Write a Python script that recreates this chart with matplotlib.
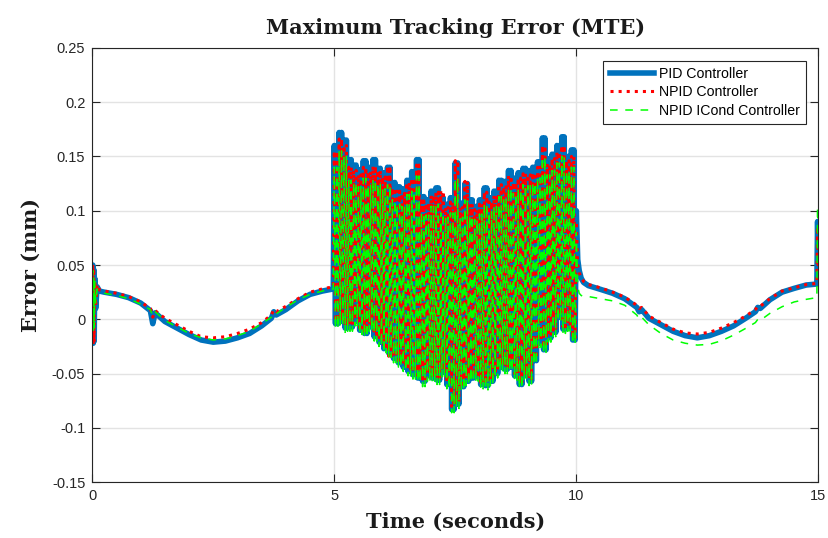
import matplotlib
matplotlib.use("Agg")
import matplotlib.pyplot as plt
import numpy as np

# ---- smooth part, 0 .. 5 s
t_start = [0, 0.01, 0.02, 0.03, 0.04, 0.05, 0.07, 0.1, 0.15, 0.25, 0.5, 0.75, 1.0, 1.2, 1.25, 1.3,
           1.5, 1.75, 2.0, 2.25, 2.5, 2.75, 3.0, 3.25, 3.5, 3.7, 3.75, 3.8, 4.0, 4.25, 4.5, 4.75, 4.98]
pid_start = [0.012, 0.050, -0.022, 0.046, -0.020, 0.038, 0.010, 0.030, 0.026, 0.025, 0.023, 0.020, 0.015, 0.008, -0.004, 0.006,
             -0.002, -0.008, -0.014, -0.019, -0.021, -0.020, -0.017, -0.013, -0.006, 0.001, 0.007, 0.004, 0.009, 0.017, 0.023, 0.026, 0.028]
npid_start = [0.010, 0.051, -0.023, 0.047, -0.021, 0.036, 0.012, 0.032, 0.027, 0.026, 0.024, 0.021, 0.016, 0.010, 0.002, 0.008,
              0.001, -0.005, -0.011, -0.016, -0.017, -0.016, -0.013, -0.009, -0.003, 0.004, 0.009, 0.007, 0.012, 0.019, 0.025, 0.028, 0.030]
icond_start = [0.015, 0.045, -0.010, 0.040, -0.008, 0.035, 0.015, 0.028, 0.025, 0.024, 0.022, 0.019, 0.014, 0.009, 0.003, 0.007,
               -0.001, -0.007, -0.013, -0.017, -0.019, -0.018, -0.015, -0.011, -0.004, 0.002, 0.006, 0.005, 0.011, 0.018, 0.023, 0.026, 0.028]

# ---- oscillating part, 5 .. 10 s: read peak / trough for each 0.1 s slot
pid_peaks = [0.160, 0.172, 0.165, 0.147, 0.142, 0.138, 0.146, 0.140, 0.147, 0.139,
             0.135, 0.140, 0.126, 0.122, 0.120, 0.128, 0.136, 0.147, 0.113, 0.110,
             0.118, 0.121, 0.112, 0.106, 0.112, 0.144, 0.107, 0.125, 0.110, 0.104,
             0.110, 0.121, 0.112, 0.118, 0.128, 0.127, 0.137, 0.130, 0.135, 0.139,
             0.137, 0.140, 0.145, 0.167, 0.148, 0.152, 0.160, 0.168, 0.150, 0.156]
pid_troughs = [-0.004, -0.002, -0.008, -0.007, -0.002, -0.010, -0.013, -0.007, -0.016, -0.021,
               -0.027, -0.031, -0.036, -0.040, -0.044, -0.048, -0.051, -0.054, -0.057, -0.052,
               -0.054, -0.056, -0.049, -0.060, -0.083, -0.078, -0.062, -0.057, -0.054, -0.053,
               -0.060, -0.061, -0.057, -0.050, -0.044, -0.046, -0.044, -0.052, -0.060, -0.052,
               -0.057, -0.038, -0.022, -0.028, -0.017, -0.012, 0.002, -0.009, -0.007, -0.019]
npid_peaks = [0.155, 0.166, 0.160, 0.140, 0.137, 0.133, 0.140, 0.136, 0.141, 0.137,
              0.131, 0.141, 0.121, 0.118, 0.116, 0.126, 0.130, 0.142, 0.109, 0.107,
              0.114, 0.117, 0.118, 0.103, 0.108, 0.146, 0.103, 0.127, 0.106, 0.101,
              0.106, 0.117, 0.108, 0.114, 0.124, 0.122, 0.132, 0.126, 0.130, 0.134,
              0.133, 0.135, 0.140, 0.160, 0.143, 0.148, 0.154, 0.160, 0.146, 0.150]
npid_troughs = [-0.002, 0.000, -0.006, -0.005, 0.000, -0.008, -0.011, -0.005, -0.014, -0.019,
                -0.025, -0.034, -0.035, -0.038, -0.042, -0.046, -0.049, -0.052, -0.055, -0.050,
                -0.052, -0.054, -0.047, -0.058, -0.080, -0.076, -0.060, -0.055, -0.052, -0.051,
                -0.058, -0.059, -0.055, -0.048, -0.042, -0.044, -0.042, -0.050, -0.058, -0.050,
                -0.055, -0.036, -0.020, -0.026, -0.015, -0.010, 0.004, -0.007, -0.005, -0.017]
icond_peaks = [0.140, 0.155, 0.150, 0.128, 0.126, 0.122, 0.130, 0.124, 0.129, 0.125,
               0.120, 0.124, 0.110, 0.106, 0.104, 0.115, 0.118, 0.132, 0.098, 0.096,
               0.104, 0.106, 0.098, 0.094, 0.098, 0.130, 0.094, 0.110, 0.096, 0.092,
               0.097, 0.106, 0.099, 0.104, 0.113, 0.112, 0.121, 0.116, 0.120, 0.124,
               0.123, 0.126, 0.130, 0.150, 0.133, 0.137, 0.144, 0.150, 0.137, 0.140]
icond_troughs = [-0.009, -0.006, -0.012, -0.011, -0.006, -0.014, -0.017, -0.011, -0.020, -0.025,
                 -0.031, -0.035, -0.040, -0.044, -0.048, -0.052, -0.055, -0.058, -0.062, -0.057,
                 -0.058, -0.060, -0.053, -0.064, -0.086, -0.082, -0.066, -0.061, -0.058, -0.057,
                 -0.064, -0.065, -0.061, -0.054, -0.048, -0.050, -0.048, -0.056, -0.064, -0.056,
                 -0.061, -0.042, -0.026, -0.032, -0.021, -0.016, -0.002, -0.013, -0.011, -0.023]
swings_per_slot = 2

# ---- smooth part, 10 .. 15 s
t_end = [10.0, 10.03, 10.06, 10.1, 10.15, 10.25, 10.5, 10.75, 11.0, 11.25, 11.3, 11.35, 11.5, 11.75, 12.0,
         12.25, 12.5, 12.75, 13.0, 13.25, 13.5, 13.7, 13.75, 13.8, 14.0, 14.25, 14.5, 14.75, 14.97, 14.985, 15.0]
pid_end = [0.100, 0.055, 0.045, 0.038, 0.034, 0.031, 0.0276, 0.024, 0.019, 0.011, 0.007, 0.009, 0.001, -0.005, -0.011,
           -0.015, -0.017, -0.015, -0.011, -0.006, 0.001, 0.007, 0.011, 0.010, 0.018, 0.025, 0.0285, 0.0316, 0.0325, 0.090, 0.050]
npid_end = [0.090, 0.050, 0.043, 0.038, 0.035, 0.032, 0.029, 0.025, 0.0205, 0.013, 0.010, 0.011, 0.003, -0.003, -0.009,
            -0.0125, -0.0135, -0.012, -0.008, -0.003, 0.003, 0.009, 0.012, 0.012, 0.019, 0.026, 0.029, 0.032, 0.033, 0.085, 0.045]
icond_end = [0.080, 0.030, 0.024, 0.022, 0.021, 0.021, 0.019, 0.017, 0.013, 0.004, 0.000, 0.002, -0.005, -0.013, -0.019,
             -0.022, -0.0237, -0.023, -0.0197, -0.0145, -0.0083, -0.003, 0.000, -0.001, 0.0055, 0.0116, 0.016, 0.0184, 0.020, 0.104, 0.060]


def build(start, peaks, troughs, end):
    # every 0.1 s slot swings between its read peak and trough a few times
    pairs = np.tile(np.column_stack([peaks, troughs]), (1, swings_per_slot))
    osc = pairs.ravel()
    t_osc = 5.0 + 0.1 * np.arange(len(osc)) / (2 * swings_per_slot)
    t = np.concatenate([t_start, t_osc, t_end])
    y = np.concatenate([start, osc, end])
    return t, y


t_pid, y_pid = build(pid_start, pid_peaks, pid_troughs, pid_end)
t_npid, y_npid = build(npid_start, npid_peaks, npid_troughs, npid_end)
t_ic, y_ic = build(icond_start, icond_peaks, icond_troughs, icond_end)

fig = plt.figure(figsize=(8.29, 5.38), dpi=100)
ax = fig.add_axes([0.1113, 0.1035, 0.8758, 0.8078])

ax.plot(t_pid, y_pid, color='#0072BD', lw=4, label='PID Controller')
ax.plot(t_npid, y_npid, color='#FF0000', lw=2.2, ls=':', label='NPID Controller')
ax.plot(t_ic, y_ic, color='#00FF00', lw=1.1, dashes=(5, 5), label='NPID ICond Controller')

ax.set_xlim(0, 15)
ax.set_ylim(-0.15, 0.25)
ax.set_xticks([0, 5, 10, 15])
ax.set_xticklabels(['0', '5', '10', '15'])
yt = [-0.15, -0.1, -0.05, 0, 0.05, 0.1, 0.15, 0.2, 0.25]
ax.set_yticks(yt)
ax.set_yticklabels(['-0.15', '-0.1', '-0.05', '0', '0.05', '0.1', '0.15', '0.2', '0.25'])
ax.grid(True, color='#e3e3e3', lw=1)
ax.set_axisbelow(True)
ax.tick_params(direction='in', length=6, width=0.8, top=True, right=True, colors='#262626',
               labelsize=10.5, pad=5)
for lab in ax.get_xticklabels() + ax.get_yticklabels():
    lab.set_fontfamily('Liberation Sans')
for s in ax.spines.values():
    s.set_color('#262626')
    s.set_linewidth(0.8)

serif = dict(family='DejaVu Serif', weight='bold', fontsize=15, color='#1a1a1a')
ax.set_title('Maximum Tracking Error (MTE)', pad=10, **serif)
ax.set_xlabel('Time (seconds)', labelpad=6, **serif)
ax.set_ylabel('Error (mm)', labelpad=8, **serif)

leg = ax.legend(loc='upper right', bbox_to_anchor=(0.983, 0.970), borderaxespad=0, fancybox=False,
                framealpha=1, edgecolor='#262626', prop={'family': 'Liberation Sans', 'size': 10.2},
                handlelength=3.1, handletextpad=0.35, borderpad=0.45, labelspacing=0.3)
leg.get_frame().set_linewidth(0.8)

fig.savefig('out.png', dpi=100)
